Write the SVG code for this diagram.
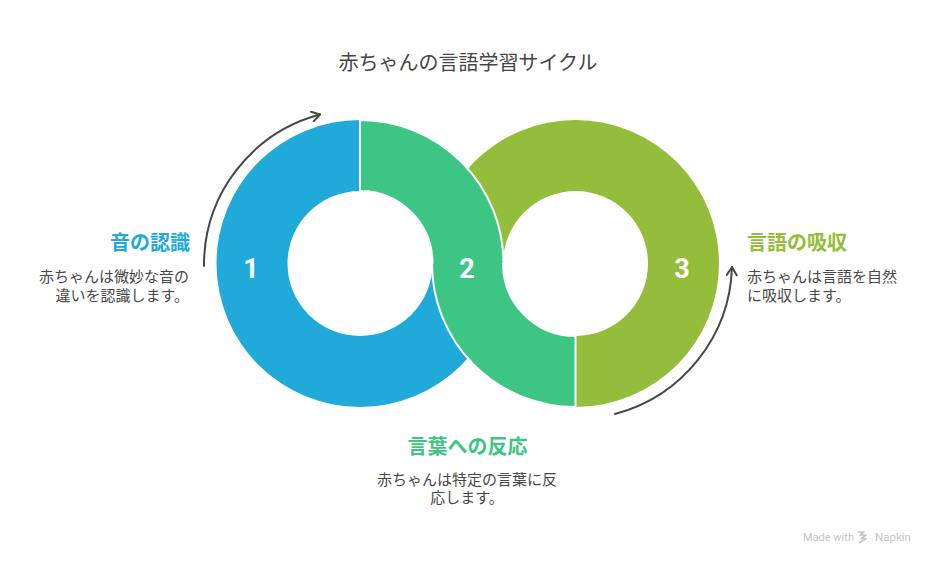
<svg xmlns="http://www.w3.org/2000/svg" width="936" height="564" viewBox="0 0 936 564">
<defs>
<style>
.jp{font-family:"Noto Sans CJK JP","Noto Sans",sans-serif;}
.title{font-size:20px;fill:#454545;}
.head{font-size:20px;font-weight:bold;}
.body{font-size:15px;fill:#474747;}
.num{font-family:Roboto,"Liberation Sans",sans-serif;font-size:27px;font-weight:bold;fill:#ffffff;text-anchor:middle;}
.arc{fill:none;stroke:#474747;stroke-width:2;stroke-linecap:round;}
.mark{fill:#c4c4c4;font-family:Roboto,"Liberation Sans",sans-serif;font-size:11px;}
</style>
<marker id="arr" viewBox="0 0 12 12" refX="10" refY="6" markerWidth="12" markerHeight="12" markerUnits="userSpaceOnUse" orient="auto">
<path d="M2,1 L10,6 L2,11" fill="none" stroke="#474747" stroke-width="2" stroke-linecap="round" stroke-linejoin="round"/>
</marker>
</defs>
<rect width="936" height="564" fill="#ffffff"/>
<text class="jp title" x="468" y="69.5" text-anchor="middle">赤ちゃんの言語学習サイクル</text>

<g id="node3">
<path d="M432,263.5 A143.5,143.5 0 1 1 575.5,407 L575.5,336 A72.5,72.5 0 1 0 503,263.5 Z" fill="#93BD3A"/>
<text class="num" x="682" y="278">3</text>
</g>
<g id="node1">
<path d="M360,120 A143.5,143.5 0 1 0 503.5,263.5 L432.5,263.5 A72.5,72.5 0 1 1 360,191 Z" fill="#1FAAD9"/>
<text class="num" x="251" y="278">1</text>
</g>
<g id="node2">
<path d="M360,120 A143.5,143.5 0 0 1 503.5,263.5 L503,263.5 A72.5,72.5 0 0 0 575.5,336 L575.5,407 A143.5,143.5 0 0 1 432,263.5 L432.5,263.5 A72.5,72.5 0 0 0 360,191 Z" fill="#3DC583" stroke="#ffffff" stroke-width="2" stroke-linejoin="round"/>
<text class="num" x="467" y="278">2</text>
</g>

<g id="connectors">
<path class="arc" d="M204,266 A156,156 0 0 1 320,114.5" marker-end="url(#arr)"/>
<path class="arc" d="M615,414 A157,157 0 0 0 732,267" marker-end="url(#arr)"/>
</g>

<g id="label1">
<text class="jp head" x="190" y="250" text-anchor="end" fill="#1FAAD9">音の認識</text>
<text class="jp body" x="189" y="282" text-anchor="end">赤ちゃんは微妙な音の</text>
<text class="jp body" x="189" y="300.5" text-anchor="end">違いを認識します。</text>
</g>
<g id="label2">
<text class="jp head" x="467.5" y="454" text-anchor="middle" fill="#3DC583">言葉への反応</text>
<text class="jp body" x="467" y="484.5" text-anchor="middle">赤ちゃんは特定の言葉に反</text>
<text class="jp body" x="467" y="503" text-anchor="middle">応します。</text>
</g>
<g id="label3">
<text class="jp head" x="747" y="250" fill="#93BD3A">言語の吸収</text>
<text class="jp body" x="747" y="282">赤ちゃんは言語を自然</text>
<text class="jp body" x="747" y="300.5">に吸収します。</text>
</g>

<g id="watermark">
<text class="mark" x="803" y="541">Made with</text>
<path d="M858,532 L864,532 L860,535 L866,535 L861,538.5 L866,538.5 L859,543" fill="none" stroke="#c4c4c4" stroke-width="1.6" stroke-linejoin="round"/>
<text class="mark" x="875" y="541" style="font-size:11.5px">Napkin</text>
</g>
</svg>
